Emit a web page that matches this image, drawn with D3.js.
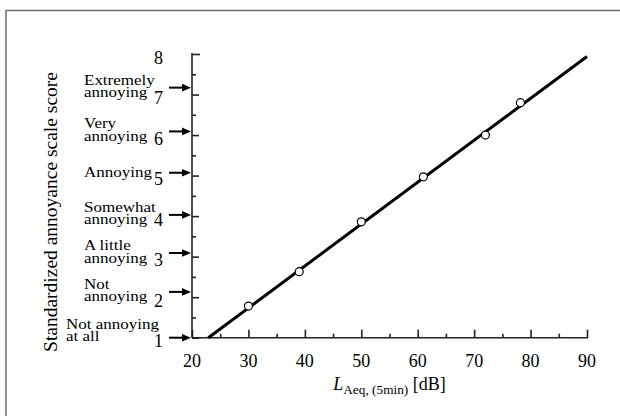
<!DOCTYPE html>
<html lang="en">
<head>
    <meta charset="utf-8" />
    <style>
        body {margin:0; background:#fff;}
        svg {display:block;}
        text {font-family: "Liberation Serif", "Times New Roman", serif; fill: #000;}
    </style>
    <script src="https://cdn.jsdelivr.net/npm/d3@7/dist/d3.min.js"></script>
</head>
<body>
    <svg></svg>
</body>
<script>
    var width = 620,
        height = 416;

    // measured points
    var levels = [30, 39, 50, 61, 72, 78.2];
    var scores = [1.78, 2.63, 3.86, 4.97, 6.0, 6.8];

    // fitted line end points
    var fitLevels = [22.9, 90];
    var fitScores = [1, 7.94];

    // verbal categories and where their arrows point
    var categories = [
        ["Not annoying", "at all"],
        ["Not", "annoying"],
        ["A little", "annoying"],
        ["Somewhat", "annoying"],
        ["Annoying"],
        ["Very", "annoying"],
        ["Extremely", "annoying"]
    ];
    var categoryScores = [1, 2.13, 3.09, 4.03, 5.07, 6.09, 7.17];

    var xTicks = [20, 30, 40, 50, 60, 70, 80, 90];
    var yTicks = [1, 2, 3, 4, 5, 6, 7, 8];

    var x = d3.scaleLinear().domain([20, 90]).range([192, 587]);
    var y = d3.scaleLinear().domain([1, 8]).range([337.7, 54]);

    var svg = d3.select("svg")
        .attr("width", width)
        .attr("height", height)

    // frame (only top and left edges fall inside the picture)
    svg.append("rect")
        .attr("x", 6).attr("y", 10.5)
        .attr("width", 800).attr("height", 600)
        .attr("fill", "none")
        .attr("stroke", "#6e6e6e")
        .attr("stroke-width", 1.5)

    // x axis, ticks pointing inward
    var xAxis = svg.append("g")
        .attr("transform", "translate(0," + y(1) + ")")
        .call(d3.axisTop(x).tickValues(d3.range(20, 90.1, 5)).tickSize(4).tickFormat(""))
    xAxis.selectAll(".tick line")
        .attr("y2", function(d) {return d % 10 == 0 ? -8 : -4})
    xAxis.select(".domain").attr("d", "M" + x(20) + ",0H" + (x(90) + 1))
    xAxis.selectAll("line, path").attr("stroke", "#222").attr("stroke-width", 1.6)

    svg.append("g").selectAll("text")
        .data(xTicks)
      .enter().append("text")
        .attr("x", function(d) {return x(d)})
        .attr("y", y(1) + 29)
        .attr("text-anchor", "middle")
        .attr("font-size", 18)
        .text(function(d) {return d})

    // y axis, ticks pointing inward
    var yAxis = svg.append("g")
        .attr("transform", "translate(" + x(20) + ",0)")
        .call(d3.axisRight(y).tickValues(d3.range(1, 8.01, 0.5)).tickSize(4).tickFormat(""))
    yAxis.selectAll(".tick line")
        .attr("x2", function(d) {return d == 8 ? 8 : d % 1 == 0 ? 7 : 4})
    yAxis.select(".domain").attr("d", "M0," + y(1) + "V" + (y(8) - 1))
    yAxis.selectAll("line, path").attr("stroke", "#222").attr("stroke-width", 1.6)

    svg.append("g").selectAll("text")
        .data(yTicks)
      .enter().append("text")
        .attr("x", 163)
        .attr("y", function(d) {return y(d) + 9.5})
        .attr("text-anchor", "end")
        .attr("font-size", 18)
        .text(function(d) {return d})

    // arrows from verbal categories
    var arrows = svg.append("g")
    arrows.selectAll("line")
        .data(categoryScores)
      .enter().append("line")
        .attr("x1", 169).attr("x2", x(20) - 6)
        .attr("y1", function(d) {return y(d)})
        .attr("y2", function(d) {return y(d)})
        .attr("stroke", "#000")
        .attr("stroke-width", 2)
    arrows.selectAll("path")
        .data(categoryScores)
      .enter().append("path")
        .attr("d", function(d) {
            var tip = x(20) - 1, yy = y(d);
            return "M" + tip + "," + yy + "L" + (tip - 9) + "," + (yy - 3.8) + "L" + (tip - 9) + "," + (yy + 3.8) + "Z";
        })
        .attr("fill", "#000")

    // category labels: the source face is squat, so squeeze it vertically
    var squeeze = 0.85,
        lineGap = 12.5;
    var labels = svg.append("g").selectAll("text")
        .data(categories)
      .enter().append("text")
        .attr("font-size", 17)
        .attr("x", 0)
    labels.selectAll("tspan")
        .data(function(d) {return d})
      .enter().append("tspan")
        .attr("x", 0)
        .attr("dy", function(d, i) {return i == 0 ? 0 : lineGap / squeeze})
        .text(function(d) {return d})
    labels.each(function(d, i) {
        var t = d3.select(this), w = 0;
        t.selectAll("tspan").each(function() {w = Math.max(w, this.getComputedTextLength())});
        var left = Math.min(84, 159 - w);
        var ay = y(categoryScores[i]);
        var top = i == 0 ? ay - 9 : d.length == 1 ? ay + 4.5 : ay - 3;
        t.attr("transform", "translate(" + left + "," + top + ") scale(1," + squeeze + ")");
    })

    // fitted line
    svg.append("line")
        .attr("x1", x(fitLevels[0])).attr("y1", y(fitScores[0]))
        .attr("x2", x(fitLevels[1])).attr("y2", y(fitScores[1]))
        .attr("stroke", "#000")
        .attr("stroke-width", 3)

    // measured points
    svg.append("g").selectAll("circle")
        .data(levels)
      .enter().append("circle")
        .attr("cx", function(d) {return x(d)})
        .attr("cy", function(d, i) {return y(scores[i])})
        .attr("r", 4)
        .attr("fill", "#fff")
        .attr("stroke", "#000")
        .attr("stroke-width", 1.2)

    // axis titles
    var xTitle = svg.append("text")
        .attr("x", (x(20) + x(90)) / 2)
        .attr("y", 390)
        .attr("text-anchor", "middle")
        .attr("font-size", 18)
    xTitle.append("tspan").attr("font-style", "italic").text("L")
    xTitle.append("tspan").attr("font-size", 13.3).attr("dy", 4).text("Aeq, (5min)")
    xTitle.append("tspan").attr("dy", -4).text(" [dB]")

    svg.append("text")
        .attr("transform", "translate(57,212) rotate(-90)")
        .attr("text-anchor", "middle")
        .attr("font-size", 19.5)
        .text("Standardized annoyance scale score")
</script>
</html>
